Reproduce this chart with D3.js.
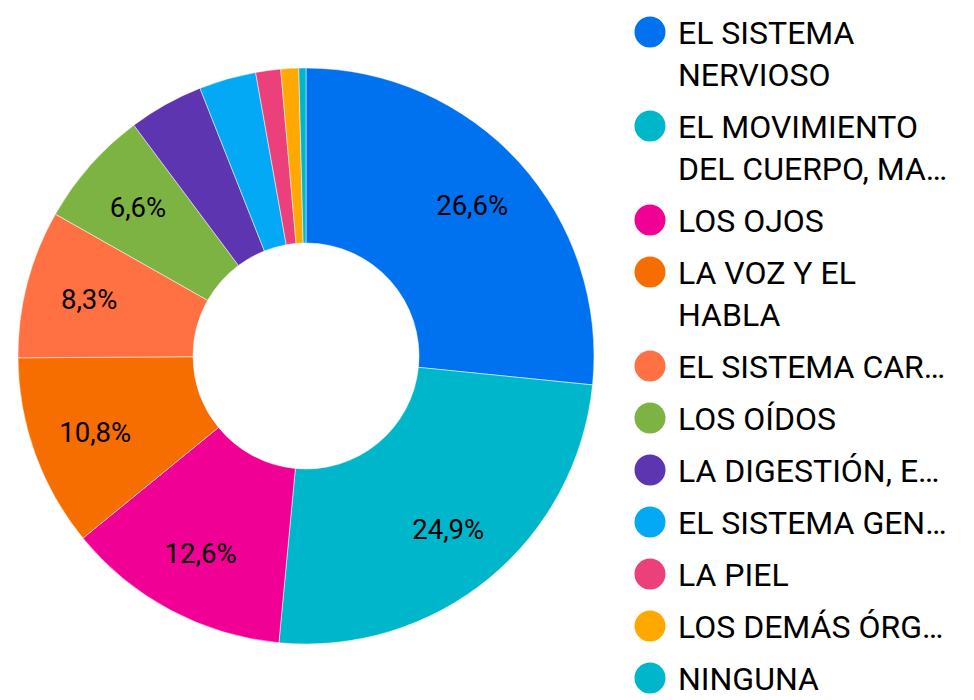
<!DOCTYPE html>
<html>
<head>
<meta charset="utf-8">
<script src="https://cdn.jsdelivr.net/npm/d3@7"></script>
<style>
  body { margin: 0; background: #fff; }
  text { font-family: Roboto, "Noto Sans", sans-serif; }
</style>
</head>
<body>
<div id="chart"></div>
<script>
// slices, clockwise from 12 o'clock
var categories = ["EL SISTEMA NERVIOSO", "EL MOVIMIENTO DEL CUERPO, MANOS, BRAZOS O PIERNAS",
  "LOS OJOS", "LA VOZ Y EL HABLA", "EL SISTEMA CARDIORRESPIRATORIO", "LOS OÍDOS",
  "LA DIGESTIÓN, EL METABOLISMO", "EL SISTEMA GENITAL", "LA PIEL", "LOS DEMÁS ÓRGANOS", "NINGUNA"];
var values = [26.6, 24.9, 12.6, 10.8, 8.3, 6.6, 4.2, 3.2, 1.4, 1.0, 0.4];
var colors = ["#0072f0", "#00b6cb", "#f10096", "#f66d00", "#ff7043", "#7cb342",
  "#5e35b1", "#03a9f4", "#ec407a", "#ffa800", "#00b6cb"];
// legend text as it is shown (wrapped / cut)
var legendLines = [
  ["EL SISTEMA", "NERVIOSO"],
  ["EL MOVIMIENTO", "DEL CUERPO, MA…"],
  ["LOS OJOS"],
  ["LA VOZ Y EL", "HABLA"],
  ["EL SISTEMA CAR…"],
  ["LOS OÍDOS"],
  ["LA DIGESTIÓN, E…"],
  ["EL SISTEMA GEN…"],
  ["LA PIEL"],
  ["LOS DEMÁS ÓRG…"],
  ["NINGUNA"]
];

var width = 974, height = 700;
var cx = 306, cy = 356;
var outerRadius = 288, innerRadius = 113, labelRadius = 224;

var svg = d3.select("#chart").append("svg")
  .attr("width", width)
  .attr("height", height);

var color = d3.scaleOrdinal().domain(d3.range(categories.length)).range(colors);

var pie = d3.pie().sort(null).value(function(d) { return d; });
var arcs = pie(values);

var arc = d3.arc().innerRadius(innerRadius).outerRadius(outerRadius);
var labelArc = d3.arc().innerRadius(labelRadius).outerRadius(labelRadius);

var g = svg.append("g").attr("transform", "translate(" + cx + "," + cy + ")");

g.selectAll("path")
  .data(arcs)
  .enter()
  .append("path")
    .attr("d", arc)
    .attr("fill", function(d, i) { return color(i); })
    .attr("stroke", "#fff")
    .attr("stroke-width", 0.5);

var fmt = function(v) { return d3.format(".1f")(v).replace(".", ",") + "%"; };

g.selectAll("text.pct")
  .data(arcs.filter(function(d) { return d.value >= 5; }))
  .enter()
  .append("text")
    .attr("class", "pct")
    .attr("transform", function(d) { return "translate(" + labelArc.centroid(d) + ")"; })
    .attr("text-anchor", "middle")
    .attr("dy", "0.35em")
    .attr("font-size", 27.5)
    .attr("fill", "#000")
    .text(function(d) { return fmt(d.value); });

// legend
var lineH = 42, gap = 52;
var ys = [];
var y = 32;
legendLines.forEach(function(lines) {
  ys.push(y);
  y += (lines.length - 1) * lineH + gap;
});

var legend = svg.append("g")
  .selectAll("g")
  .data(legendLines)
  .enter()
  .append("g")
    .attr("transform", function(d, i) { return "translate(650," + ys[i] + ")"; });

legend.append("circle")
  .attr("r", 15.5)
  .attr("fill", function(d, i) { return color(i); });

legend.append("text")
  .attr("font-size", 32)
  .attr("fill", "#000")
  .selectAll("tspan")
  .data(function(d) { return d; })
  .enter()
  .append("tspan")
    .attr("x", 28)
    .attr("y", function(d, i) { return i * lineH; })
    .attr("dy", "0.36em")
    .text(function(d) { return d; });
</script>
</body>
</html>
